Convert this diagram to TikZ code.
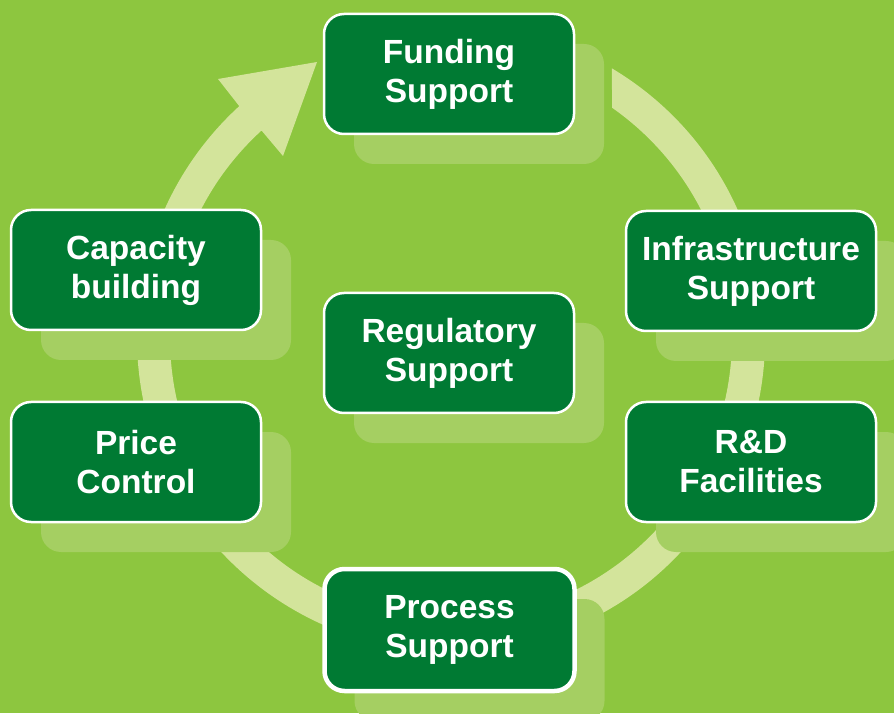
\documentclass[tikz,border=0pt]{standalone}
\usepackage{fontspec}
\setmainfont{Liberation Sans}
\usetikzlibrary{shadows,calc}
\definecolor{fieldG}{RGB}{141,198,63}
\definecolor{boxG}{RGB}{0,122,51}
\definecolor{shadeG}{RGB}{165,207,98}
\definecolor{ringG}{RGB}{211,228,155}

\tikzset{
  pillar/.style={rectangle, rounded corners=20pt, fill=boxG, draw=white, line width=2.5pt,
    minimum width=250pt, minimum height=120pt, inner sep=0pt, align=center, text=white,
    font=\fontsize{33.5}{39}\selectfont\bfseries,
    general shadow={fill=shadeG, shadow xshift=30pt, shadow yshift=-30pt}},
  current/.style={line width=4.5pt, minimum height=122pt}
}

\begin{document}
\begin{tikzpicture}[x=1pt, y=1pt]
  \fill[fieldG] (0,0) rectangle (894,713);
  \useasboundingbox (0,0) rectangle (894,713);
  \clip (0,0) rectangle (894,713);
  % cycle ring, head at the upper left
  \coordinate (hub) at (451,375);
  \fill[ringG] ([shift={(59.2:314)}]hub) arc[start angle=59.2, end angle=-227.6, radius=314pt]
    -- (218,634) -- (317,651) -- (283,557)
    -- ([shift={(132.4:281)}]hub) arc[start angle=-227.6, end angle=55, radius=281pt]
    -- cycle;
  % support boxes
  \node[pillar] (funding) at (449,639) {Funding\\Support};
  \node[pillar] (capacity) at (136,443) {Capacity\\building};
  \node[pillar] (infra) at (751,442) {Infrastructure\\Support};
  \node[pillar] (regulatory) at (449,360) {Regulatory\\Support};
  \node[pillar] (price) at (136,251) {Price\\Control};
  \node[pillar] (rnd) at (751,251) {R\&D\\Facilities};
  \node[pillar, current] (process) at (449.5,83) {Process\\Support};
\end{tikzpicture}
\end{document}
